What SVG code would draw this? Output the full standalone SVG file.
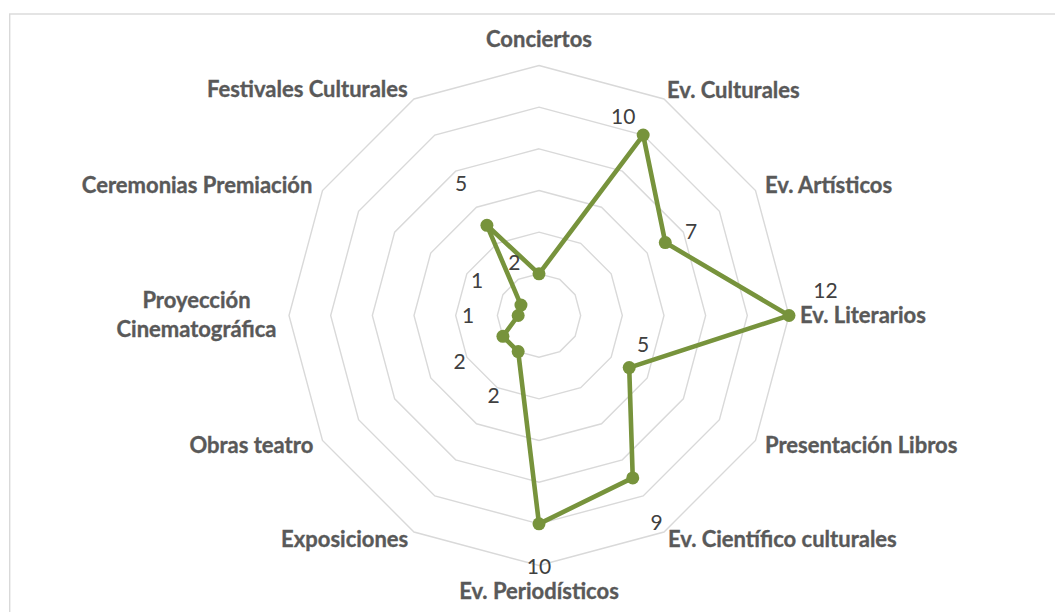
<svg xmlns="http://www.w3.org/2000/svg" width="1055" height="612" viewBox="0 0 1055 612">
<style>
.bg{fill:#ffffff}
.frame{fill:none;stroke:#D9D9D9;stroke-width:1.4}
.grid polygon{fill:none;stroke:#D9D9D9;stroke-width:1.4;stroke-linejoin:miter}
.series{fill:none;stroke:#77933C;stroke-width:4.6;stroke-linejoin:round}
.mk circle{fill:#77933C}
.cat{font-family:Lato,"Open Sans","Liberation Sans",sans-serif;font-weight:bold;font-size:22px;fill:#595959;stroke:#595959;stroke-width:0.35}
.val{font-family:Lato,"Open Sans","Liberation Sans",sans-serif;font-size:21px;fill:#404040;text-anchor:middle}
.s{text-anchor:start}.e{text-anchor:end}.m{text-anchor:middle}
</style>
<rect class="bg" x="0" y="0" width="1055" height="612"/>
<rect class="frame" x="9.7" y="14" width="1060" height="620"/>
<g id="grid" class="grid">
<polygon points="539,273.83 559.83,279.42 575.08,294.67 580.67,315.5 575.08,336.33 559.83,351.58 539,357.17 518.17,351.58 502.92,336.33 497.33,315.5 502.92,294.67 518.17,279.42"/>
<polygon points="539,232.17 580.67,243.33 611.17,273.83 622.33,315.5 611.17,357.17 580.67,387.67 539,398.83 497.33,387.67 466.83,357.17 455.67,315.5 466.83,273.83 497.33,243.33"/>
<polygon points="539,190.5 601.5,207.25 647.25,253 664,315.5 647.25,378 601.5,423.75 539,440.5 476.5,423.75 430.75,378 414,315.5 430.75,253 476.5,207.25"/>
<polygon points="539,148.83 622.33,171.16 683.34,232.17 705.67,315.5 683.34,398.83 622.33,459.84 539,482.17 455.67,459.84 394.66,398.83 372.33,315.5 394.66,232.17 455.67,171.16"/>
<polygon points="539,107.17 643.17,135.08 719.42,211.33 747.33,315.5 719.42,419.67 643.17,495.92 539,523.83 434.83,495.92 358.58,419.67 330.67,315.5 358.58,211.33 434.83,135.08"/>
<polygon points="539,65.5 664,99 755.51,190.5 789,315.5 755.51,440.5 664,532.01 539,565.5 414,532.01 322.49,440.5 289,315.5 322.49,190.5 414,99"/>
</g>
<g id="connectors">
<polygon class="series" points="539,273.83 643.17,135.08 665.29,242.58 789,315.5 629.21,367.58 632.75,477.88 539,523.83 518.17,351.58 502.92,336.33 518.17,315.5 520.96,305.08 486.92,225.29"/>
</g>
<g id="markers" class="mk">
<circle cx="539" cy="273.83" r="6.5"/>
<circle cx="643.17" cy="135.08" r="6.5"/>
<circle cx="665.29" cy="242.58" r="6.5"/>
<circle cx="789" cy="315.5" r="6.5"/>
<circle cx="629.21" cy="367.58" r="6.5"/>
<circle cx="632.75" cy="477.88" r="6.5"/>
<circle cx="539" cy="523.83" r="6.5"/>
<circle cx="518.17" cy="351.58" r="6.5"/>
<circle cx="502.92" cy="336.33" r="6.5"/>
<circle cx="518.17" cy="315.5" r="6.5"/>
<circle cx="520.96" cy="305.08" r="6.5"/>
<circle cx="486.92" cy="225.29" r="6.5"/>
</g>
<g id="categories">
<g id="n-conciertos"><text class="cat m" x="539" y="47">Conciertos</text></g>
<g id="n-culturales"><text class="cat s" x="667" y="98">Ev. Culturales</text></g>
<g id="n-artisticos"><text class="cat s" x="765" y="192.7">Ev. Artísticos</text></g>
<g id="n-literarios"><text class="cat s" x="800" y="322.7">Ev. Literarios</text></g>
<g id="n-presentacion"><text class="cat s" x="765" y="452.7">Presentación Libros</text></g>
<g id="n-cientifico"><text class="cat s" x="668" y="547.3">Ev. Científico culturales</text></g>
<g id="n-periodisticos"><text class="cat m" x="539" y="598.5">Ev. Periodísticos</text></g>
<g id="n-exposiciones"><text class="cat e" x="408.3" y="547.3">Exposiciones</text></g>
<g id="n-obras"><text class="cat e" x="313.3" y="452.7">Obras teatro</text></g>
<g id="n-proyeccion"><text class="cat m" x="196.5" y="308.3">Proyección</text><text class="cat m" x="196.5" y="336.7">Cinematográfica</text></g>
<g id="n-ceremonias"><text class="cat e" x="312.3" y="192.7">Ceremonias Premiación</text></g>
<g id="n-festivales"><text class="cat e" x="407.7" y="96.7">Festivales Culturales</text></g>
</g>
<g id="values">
<text class="val" x="514.3" y="270">2</text>
<text class="val" x="623.3" y="124.3">10</text>
<text class="val" x="691" y="239">7</text>
<text class="val" x="825.5" y="297.7">12</text>
<text class="val" x="643" y="351.7">5</text>
<text class="val" x="656.7" y="530">9</text>
<text class="val" x="539" y="573.5">10</text>
<text class="val" x="493.7" y="402.7">2</text>
<text class="val" x="459.7" y="369.3">2</text>
<text class="val" x="468" y="323.3">1</text>
<text class="val" x="477.2" y="288.3">1</text>
<text class="val" x="461.2" y="191">5</text>
</g>
</svg>
